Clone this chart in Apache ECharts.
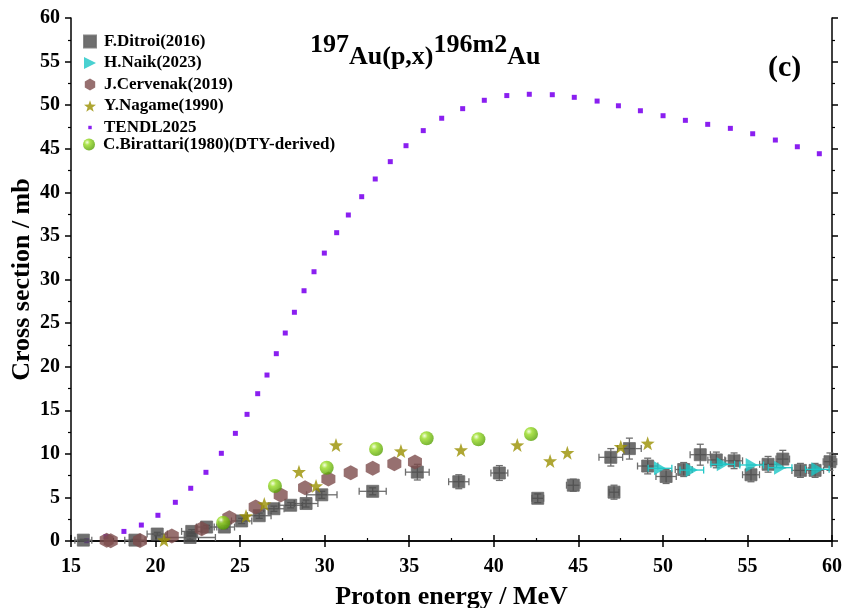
<!DOCTYPE html>
<html>
<head>
<meta charset="utf-8">
<script src="https://cdn.jsdelivr.net/npm/echarts@6/dist/echarts.min.js"></script>
<style>html,body{margin:0;padding:0;background:#fff}#c{width:845px;height:608px}</style>
</head>
<body>
<div id="c"></div>
<script>
// ---- data ----
const xTicks = [15, 20, 25, 30, 35, 40, 45, 50, 55, 60];
const yTicks = [0, 5, 10, 15, 20, 25, 30, 35, 40, 45, 50, 55, 60];

const ditroiE = [15.73, 18.78, 20.10, 22.04, 22.14, 23.02, 24.07, 25.09, 26.13, 27.00, 27.99, 28.90, 29.83, 32.84, 35.48, 37.93, 40.33, 42.60, 44.70, 46.92, 47.11, 48.02, 49.10, 50.19, 51.23, 52.21, 53.16, 54.21, 55.21, 56.22, 57.09, 58.13, 59.00, 59.88];
const ditroiV = [0.1, 0.1, 0.8, 0.4, 1.1, 1.6, 1.6, 2.3, 2.9, 3.7, 4.1, 4.3, 5.3, 5.7, 7.9, 6.8, 7.8, 4.9, 6.4, 9.6, 5.6, 10.6, 8.6, 7.4, 8.2, 9.9, 9.3, 9.2, 7.6, 8.8, 9.4, 8.1, 8.1, 9.1];
const ditroiXErr = [0.5, 0.6, 0.6, 1.5, 0.6, 0.6, 0.6, 0.6, 0.7, 0.6, 0.7, 0.7, 0.9, 0.8, 0.7, 0.6, 0.5, 0.35, 0.4, 0.7, 0.3, 0.7, 0.6, 0.6, 0.5, 0.6, 0.5, 0.5, 0.5, 0.5, 0.4, 0.5, 0.5, 0.4];
const ditroiYErr = [0.1, 0.1, 0.2, 0.2, 0.2, 0.2, 0.2, 0.3, 0.3, 0.3, 0.3, 0.4, 0.4, 0.4, 0.9, 0.8, 0.85, 0.5, 0.7, 1.0, 0.8, 1.2, 0.9, 0.8, 0.8, 1.2, 0.9, 0.9, 0.8, 0.9, 1.0, 0.8, 0.8, 1.0];

const naikE = [49.83, 51.71, 53.54, 55.25, 56.93, 59.13];
const naikV = [8.34, 8.14, 8.8, 8.72, 8.41, 8.22];
const naikXErr = [0.7, 0.7, 0.7, 0.7, 0.7, 0.7];

const cervenakE = [17.11, 17.35, 19.08, 20.96, 22.73, 24.36, 25.92, 27.40, 28.84, 30.22, 31.54, 32.84, 34.12, 35.34];
const cervenakV = [0.1, 0.02, 0.05, 0.57, 1.41, 2.67, 3.9, 5.28, 6.1, 7.11, 7.83, 8.34, 8.87, 9.06];

const nagameE = [20.5, 25.35, 26.43, 28.48, 29.49, 30.67, 34.51, 38.06, 41.39, 43.33, 44.35, 47.51, 49.1];
const nagameV = [0.11, 2.87, 4.24, 7.95, 6.31, 11.0, 10.32, 10.44, 11.01, 9.18, 10.13, 10.82, 11.2];

const tendlE = [15.93, 17.07, 18.13, 19.16, 20.14, 21.17, 22.08, 22.98, 23.89, 24.72, 25.41, 26.04, 26.59, 27.14, 27.67, 28.21, 28.78, 29.37, 29.98, 30.71, 31.40, 32.19, 32.99, 33.88, 34.81, 35.83, 36.92, 38.16, 39.44, 40.77, 42.10, 43.46, 44.76, 46.11, 47.37, 48.67, 50.01, 51.33, 52.65, 53.99, 55.31, 56.65, 57.95, 59.25];
const tendlV = [0.03, 0.5, 1.1, 1.83, 2.95, 4.44, 6.05, 7.88, 10.06, 12.35, 14.53, 16.90, 19.04, 21.49, 23.86, 26.24, 28.71, 30.89, 33.03, 35.37, 37.40, 39.50, 41.53, 43.52, 45.35, 47.08, 48.50, 49.6, 50.56, 51.1, 51.25, 51.2, 50.9, 50.47, 49.93, 49.36, 48.79, 48.26, 47.8, 47.34, 46.72, 46.0, 45.23, 44.43];

const birattariE = [24.0, 27.06, 30.12, 33.04, 36.03, 39.09, 42.2];
const birattariV = [2.1, 6.31, 8.41, 10.55, 11.78, 11.67, 12.27];

const seriesNames = ['F.Ditroi(2016)', 'H.Naik(2023)', 'J.Cervenak(2019)', 'Y.Nagame(1990)', 'TENDL2025', 'C.Birattari(1980)(DTY-derived)'];

// ---- helpers ----
const zip = (a, b) => a.map((v, i) => [v, b[i]]);
const FONT = 'Liberation Serif';
const hexPath = 'path://M0,-10L8.66,-5L8.66,5L0,10L-8.66,5L-8.66,-5Z';
const starPath = 'path://M0,-10L2.35,-3.24L9.51,-3.09L3.8,1.24L5.88,8.09L0,4L-5.88,8.09L-3.8,1.24L-9.51,-3.09L-2.35,-3.24Z';
const triPath = 'path://M0,0L10,5L0,10Z';
const tinySquare = 'path://M0,0M14,14M5,5h4v4h-4z';
const ballColor = {type: 'radial', x: 0.35, y: 0.32, r: 0.75, colorStops: [
  {offset: 0, color: '#f2ffd8'}, {offset: 0.3, color: '#98dc22'}, {offset: 1, color: '#4f9a00'}]};

function errBars(color) {
  return function (params, api) {
    const x = api.value(0), y = api.value(1), xe = api.value(2), ye = api.value(3);
    const c = api.coord([x, y]);
    const l = api.coord([x - xe, y]), r = api.coord([x + xe, y]);
    const t = api.coord([x, y + ye]), b = api.coord([x, y - ye]);
    const style = {stroke: color, lineWidth: 1.3};
    const cap = 3.5;
    const ch = [];
    if (xe > 0) {
      ch.push({type: 'line', shape: {x1: l[0], y1: c[1], x2: r[0], y2: c[1]}, style});
      ch.push({type: 'line', shape: {x1: l[0], y1: c[1] - cap, x2: l[0], y2: c[1] + cap}, style});
      ch.push({type: 'line', shape: {x1: r[0], y1: c[1] - cap, x2: r[0], y2: c[1] + cap}, style});
    }
    if (ye > 0) {
      ch.push({type: 'line', shape: {x1: c[0], y1: t[1], x2: c[0], y2: b[1]}, style});
      ch.push({type: 'line', shape: {x1: c[0] - cap, y1: t[1], x2: c[0] + cap, y2: t[1]}, style});
      ch.push({type: 'line', shape: {x1: c[0] - cap, y1: b[1], x2: c[0] + cap, y2: b[1]}, style});
    }
    return {type: 'group', children: ch, silent: true};
  };
}

const axisCommon = {
  axisLine: {lineStyle: {color: '#000', width: 1.5}},
  splitLine: {show: false},
  minorTick: {show: true, splitNumber: 2, length: 3, lineStyle: {color: '#000', width: 1.2}},
  axisTick: {length: 6, lineStyle: {color: '#000', width: 1.5}},
  axisLabel: {fontFamily: FONT, fontWeight: 'bold', fontSize: 20, color: '#000'}
};

const legendText = {fontFamily: FONT, fontWeight: 'bold', fontSize: 17, color: '#000', padding: [0, 0, 0, 3]};

const chart = echarts.init(document.getElementById('c'), null, {renderer: 'canvas'});
const option = {
  animation: false,
  backgroundColor: '#fff',
  grid: {left: 71, right: 13, top: 18, bottom: 67, outerBoundsMode: 'none', containLabel: false},
  title: {
    left: 305, top: 27,
    text: '{sup|197}{base|Au(p,x)}{sup|196m2}{base|Au}',
    textStyle: {
      rich: {
        sup: {fontFamily: FONT, fontWeight: 'bold', fontSize: 26, color: '#000', verticalAlign: 'top', lineHeight: 38, padding: [0, 0, 12, 0]},
        base: {fontFamily: FONT, fontWeight: 'bold', fontSize: 26, color: '#000', verticalAlign: 'bottom', lineHeight: 38, padding: [10, 0, 0, 0]}
      }
    }
  },
  graphic: [{
    type: 'text', left: 768, top: 53,
    style: {text: '(c)', fontFamily: FONT, fontWeight: 'bold', fontSize: 30, fill: '#000'}
  }],
  legend: [
    {
      orient: 'vertical', left: 78, top: 28,
      itemWidth: 12, itemHeight: 12, itemGap: 4.5,
      textStyle: legendText,
      data: [
        {name: seriesNames[0]},
        {name: seriesNames[1]},
        {name: seriesNames[2]},
        {name: seriesNames[3]},
        {name: seriesNames[4], icon: tinySquare}
      ]
    },
    {
      orient: 'vertical', left: 78, top: 131,
      itemWidth: 12, itemHeight: 12,
      textStyle: legendText,
      data: [{name: seriesNames[5]}]
    }
  ],
  xAxis: [
    Object.assign({}, axisCommon, {
      type: 'value', min: xTicks[0], max: xTicks[xTicks.length - 1], interval: 5, position: 'bottom',
      axisTick: Object.assign({}, axisCommon.axisTick, {inside: true}),
      axisLabel: Object.assign({}, axisCommon.axisLabel, {margin: 16}),
      name: 'Proton energy / MeV', nameLocation: 'middle', nameGap: 43,
      nameTextStyle: {fontFamily: FONT, fontWeight: 'bold', fontSize: 26, color: '#000'}
    }),
    Object.assign({}, axisCommon, {
      type: 'value', min: xTicks[0], max: xTicks[xTicks.length - 1], interval: 5, position: 'top',
      axisTick: Object.assign({}, axisCommon.axisTick, {inside: true}),
      minorTick: Object.assign({}, axisCommon.minorTick, {show: false}),
      axisLabel: {show: false}
    })
  ],
  yAxis: [
    Object.assign({}, axisCommon, {
      type: 'value', min: yTicks[0], max: yTicks[yTicks.length - 1], interval: 5, position: 'left',
      axisTick: Object.assign({}, axisCommon.axisTick, {inside: false}),
      axisLabel: Object.assign({}, axisCommon.axisLabel, {margin: 11}),
      name: 'Cross section / mb', nameLocation: 'middle', nameGap: 36, nameRotate: 90,
      nameMoveOverlap: false,
      nameTextStyle: {fontFamily: FONT, fontWeight: 'bold', fontSize: 26, color: '#000'}
    }),
    Object.assign({}, axisCommon, {
      type: 'value', min: yTicks[0], max: yTicks[yTicks.length - 1], interval: 5, position: 'right',
      axisTick: Object.assign({}, axisCommon.axisTick, {inside: false}),
      axisLabel: {show: false}
    })
  ],
  series: [
    {
      name: seriesNames[4], type: 'line', data: zip(tendlE, tendlV),
      symbol: 'rect', symbolSize: 5, showSymbol: true,
      lineStyle: {opacity: 0, width: 0},
      itemStyle: {color: '#8a1ff0'}, z: 2
    },
    {
      name: seriesNames[0] + ' err', type: 'custom',
      data: ditroiE.map((e, i) => [e, ditroiV[i], ditroiXErr[i], ditroiYErr[i]]),
      renderItem: errBars('#6e6e6e'), z: 3
    },
    {
      name: seriesNames[0], type: 'scatter', data: zip(ditroiE, ditroiV),
      symbol: 'rect', symbolSize: 12,
      itemStyle: {color: '#4b4b4b', borderColor: '#6a6a6a', borderWidth: 1}, z: 4
    },
    {
      name: seriesNames[1] + ' err', type: 'custom',
      data: naikE.map((e, i) => [e, naikV[i], naikXErr[i], 0]),
      renderItem: errBars('#22c8c8'), z: 5
    },
    {
      name: seriesNames[1], type: 'scatter', data: zip(naikE, naikV),
      symbol: triPath, symbolSize: [12, 14],
      itemStyle: {color: '#1cc6c6'}, z: 6
    },
    {
      name: seriesNames[2], type: 'scatter', data: zip(cervenakE, cervenakV),
      symbol: hexPath, symbolSize: [14, 15],
      itemStyle: {color: '#7d4c4c'}, z: 5
    },
    {
      name: seriesNames[3], type: 'scatter', data: zip(nagameE, nagameV),
      symbol: starPath, symbolSize: 14,
      itemStyle: {color: '#9a9000'}, z: 6
    },
    {
      name: seriesNames[5], type: 'scatter', data: zip(birattariE, birattariV),
      symbol: 'circle', symbolSize: 14,
      itemStyle: {color: ballColor}, z: 6
    }
  ]
};
chart.setOption(option);
</script>
</body>
</html>
